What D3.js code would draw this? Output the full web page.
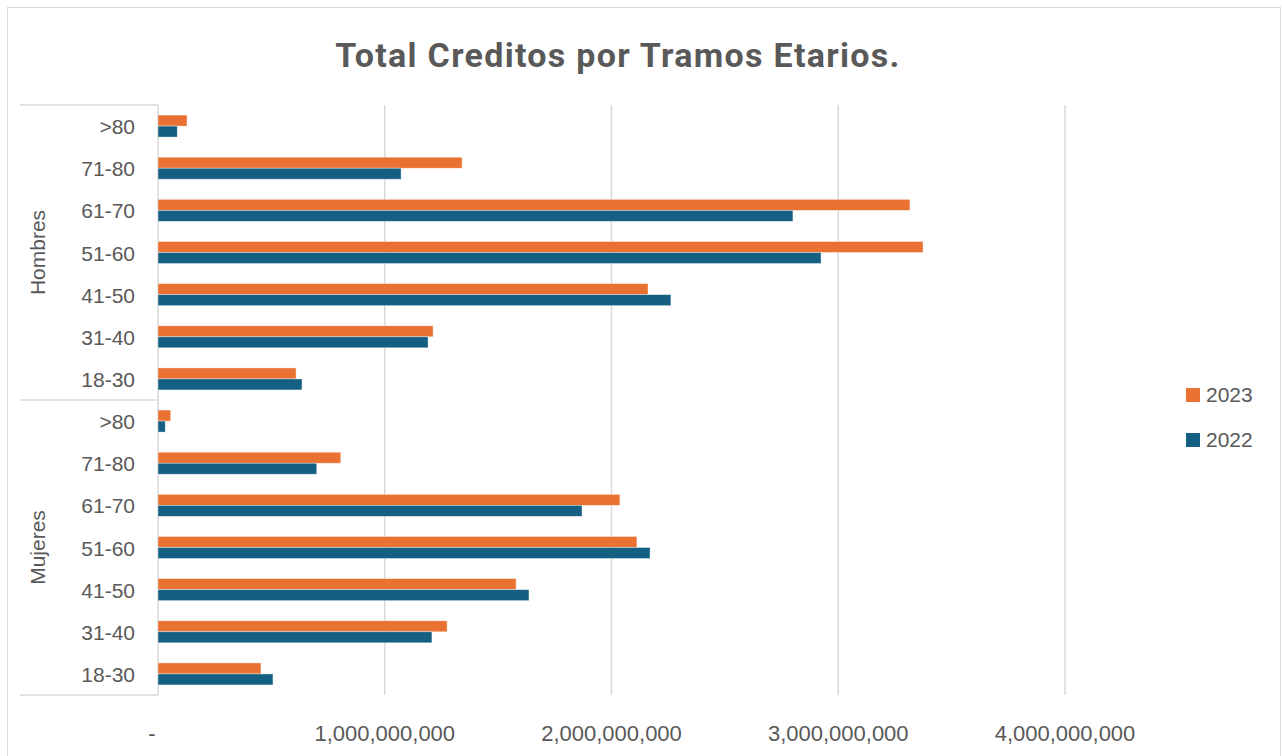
<!DOCTYPE html>
<html>
<head>
<meta charset="utf-8">
<script src="https://cdn.jsdelivr.net/npm/d3@7"></script>
<style>
  body { margin: 0; background: #fff; }
  svg { display: block; }
</style>
</head>
<body>
<main></main>
<script>
const groups = ['Hombres', 'Mujeres'];
const ages = ['>80', '71-80', '61-70', '51-60', '41-50', '31-40', '18-30'];
const seriesNames = ['2023', '2022'];

// values in pesos, same order as ages
const hombres2023 = [128e6, 1341e6, 3316e6, 3374e6, 2161e6, 1213e6, 609e6];
const hombres2022 = [85e6, 1072e6, 2800e6, 2924e6, 2262e6, 1191e6, 635e6];
const mujeres2023 = [56e6, 806e6, 2037e6, 2112e6, 1579e6, 1275e6, 454e6];
const mujeres2022 = [32e6, 700e6, 1870e6, 2170e6, 1636e6, 1208e6, 507e6];

const xTicks = [0, 1e9, 2e9, 3e9, 4e9];

const width = 1282;
const height = 756;
const colors = { '2023': '#E97132', '2022': '#156082' };
const textColor = '#595959';
const gridColor = '#d9d9d9';
const labelFont = '"Liberation Sans", Arial, sans-serif';

const rows = [];
groups.forEach((g, gi) => {
  const v23 = gi === 0 ? hombres2023 : mujeres2023;
  const v22 = gi === 0 ? hombres2022 : mujeres2022;
  ages.forEach((a, i) => {
    rows.push({ key: g + '|' + a, group: g, age: a, '2023': v23[i], '2022': v22[i] });
  });
});

const svg = d3.select('main')
  .append('svg')
  .attr('width', width)
  .attr('height', height);

// outer chart border
svg.append('rect')
  .attr('x', 7.5)
  .attr('y', 7.5)
  .attr('width', 1273)
  .attr('height', 770)
  .attr('fill', '#fff')
  .attr('stroke', gridColor)
  .attr('stroke-width', 1);

// Title
svg.append('text')
  .attr('x', 618)
  .attr('y', 67)
  .attr('text-anchor', 'middle')
  .style('font-family', 'Roboto, "Open Sans", sans-serif')
  .style('font-weight', 700)
  .style('font-size', '34px')
  .style('letter-spacing', '1.3px')
  .style('fill', textColor)
  .text('Total Creditos por Tramos Etarios.');

const x = d3.scaleLinear()
  .domain([0, 4e9])
  .range([158, 1065]);

const y = d3.scaleBand()
  .domain(rows.map(d => d.key))
  .range([105, 695]);

const inner = d3.scaleBand()
  .domain(seriesNames)
  .range([0, 22]);

// Gridlines
svg.append('g')
  .selectAll('line')
  .data(xTicks)
  .enter()
  .append('line')
  .attr('x1', d => x(d))
  .attr('x2', d => x(d))
  .attr('y1', 105)
  .attr('y2', 695)
  .attr('stroke', gridColor)
  .attr('stroke-width', 1.5);

// Tick labels
svg.append('g')
  .selectAll('text')
  .data(xTicks)
  .enter()
  .append('text')
  .attr('x', d => d === 0 ? x(d) - 6 : x(d))
  .attr('y', 741)
  .attr('text-anchor', 'middle')
  .style('font-family', labelFont)
  .style('font-size', '22px')
  .style('fill', textColor)
  .text(d => d === 0 ? '-' : d3.format(',')(d));

// Category separators
const sepYs = [105, y(groups[1] + '|' + ages[0]), 695];
svg.append('g')
  .selectAll('line')
  .data(sepYs)
  .enter()
  .append('line')
  .attr('x1', 20)
  .attr('x2', 158)
  .attr('y1', d => d)
  .attr('y2', d => d)
  .attr('stroke', gridColor)
  .attr('stroke-width', 1.5);

// Age labels
svg.append('g')
  .selectAll('text')
  .data(rows)
  .enter()
  .append('text')
  .attr('x', 135)
  .attr('y', d => y(d.key) + y.bandwidth() / 2 + 8)
  .attr('text-anchor', 'end')
  .style('font-family', labelFont)
  .style('font-size', '21px')
  .style('fill', textColor)
  .text(d => d.age);

// Group labels
svg.append('g')
  .selectAll('text')
  .data(groups)
  .enter()
  .append('text')
  .attr('transform', g => {
    const keys = rows.filter(r => r.group === g).map(r => r.key);
    const cy = (y(keys[0]) + y(keys[keys.length - 1]) + y.bandwidth()) / 2;
    return `translate(45, ${cy}) rotate(-90)`;
  })
  .attr('text-anchor', 'middle')
  .style('font-family', labelFont)
  .style('font-size', '21px')
  .style('fill', textColor)
  .text(g => g);

// Bars
const rowG = svg.append('g')
  .selectAll('g')
  .data(rows)
  .enter()
  .append('g')
  .attr('transform', d => `translate(0, ${y(d.key) + (y.bandwidth() - 22) / 2})`);

rowG.selectAll('rect')
  .data(d => seriesNames.map(s => ({ s, v: d[s] })))
  .enter()
  .append('rect')
  .attr('x', x(0))
  .attr('y', d => inner(d.s))
  .attr('width', d => x(d.v) - x(0))
  .attr('height', inner.bandwidth())
  .attr('fill', d => colors[d.s])
  .attr('stroke', '#fff')
  .attr('stroke-opacity', 0.5)
  .attr('stroke-width', 0.75);

// Legend
const legend = svg.append('g')
  .selectAll('g')
  .data(seriesNames)
  .enter()
  .append('g')
  .attr('transform', (d, i) => `translate(1186, ${388 + i * 45})`);

legend.append('rect')
  .attr('width', 14)
  .attr('height', 14)
  .attr('fill', d => colors[d]);

legend.append('text')
  .attr('x', 20)
  .attr('y', 14)
  .style('font-family', labelFont)
  .style('font-size', '21px')
  .style('fill', textColor)
  .text(d => d);
</script>
</body>
</html>
